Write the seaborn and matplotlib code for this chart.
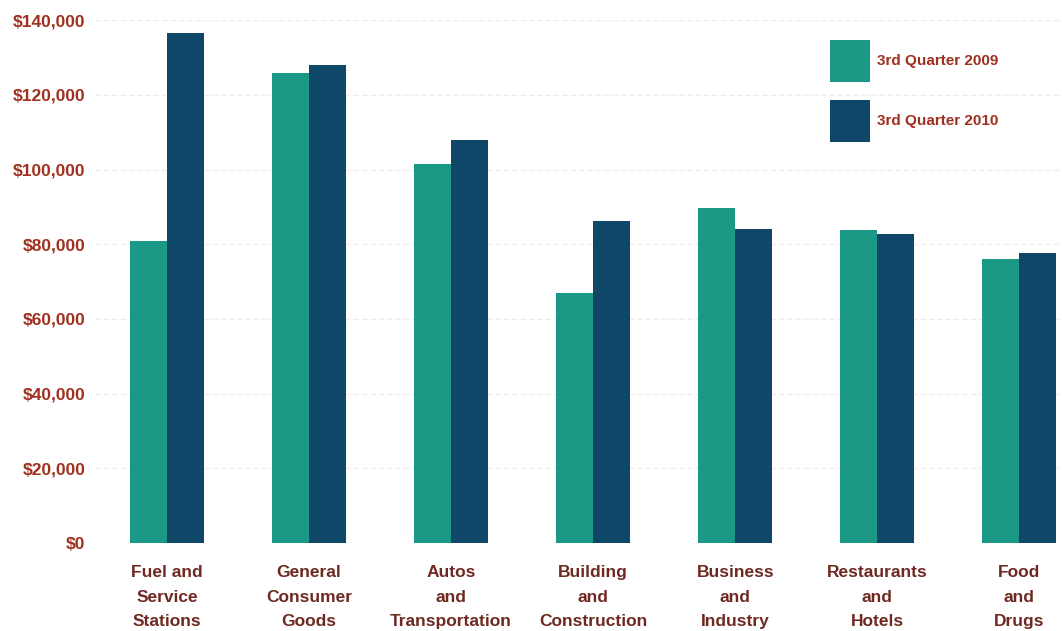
import matplotlib
matplotlib.use("Agg")
import matplotlib.pyplot as plt
import matplotlib.ticker as mticker
import seaborn as sns
import pandas as pd

categories = ["Fuel and\nService\nStations", "General\nConsumer\nGoods", "Autos\nand\nTransportation",
              "Building\nand\nConstruction", "Business\nand\nIndustry", "Restaurants\nand\nHotels",
              "Food\nand\nDrugs"]
series_names = ["3rd Quarter 2009", "3rd Quarter 2010"]
q3_2009 = [81000, 125800, 101400, 67000, 89700, 83800, 76000]
q3_2010 = [136500, 128000, 107900, 86200, 84000, 82700, 77600]
y_ticks = [0, 20000, 40000, 60000, 80000, 100000, 120000, 140000]

teal = "#1c9886"
navy = "#0e4768"
red = "#a0301f"
brown = "#6e2a22"

df = pd.DataFrame({
    "category": categories * 2,
    "quarter": [series_names[0]] * len(categories) + [series_names[1]] * len(categories),
    "value": q3_2009 + q3_2010,
})

sns.set_style("white")
plt.rcParams["font.family"] = ["Liberation Sans", "DejaVu Sans"]

fig = plt.figure(figsize=(10.62, 6.31), dpi=100)
ax = fig.add_axes([0.0895, 0.1395, 0.9105, 0.8285])

sns.barplot(data=df, x="category", y="value", hue="quarter", palette=[teal, navy],
            width=0.52, ax=ax, saturation=1, edgecolor="none", legend=True)

ax.set_ylim(0, 140000)
ax.set_xlim(-0.507, 6.3)
ax.set_yticks(y_ticks)
ax.yaxis.set_major_formatter(mticker.FuncFormatter(lambda v, p: f"${v:,.0f}"))
ax.grid(axis="y", color="#f8e8e8", linewidth=1.0, linestyle=(0, (4, 2)))
ax.set_axisbelow(True)
for s in ax.spines.values():
    s.set_visible(False)
ax.set_xlabel("")
ax.set_ylabel("")
ax.tick_params(axis="y", length=0, pad=7, labelsize=12.5, labelcolor=red)
ax.tick_params(axis="x", length=0, pad=16, labelsize=12.5, labelcolor=brown)
for lab in ax.get_yticklabels():
    lab.set_fontweight("bold")
for lab in ax.get_xticklabels():
    lab.set_fontweight("bold")
    lab.set_linespacing(1.8)

leg = ax.legend(loc="upper left", bbox_to_anchor=(0.76, 0.962), frameon=False,
                fontsize=11, handlelength=2.62, handleheight=3.85, labelspacing=1.15,
                handletextpad=0.45, borderpad=0, borderaxespad=0)
for t in leg.get_texts():
    t.set_color(red)
    t.set_fontweight("bold")

fig.savefig("out.png", dpi=100)
